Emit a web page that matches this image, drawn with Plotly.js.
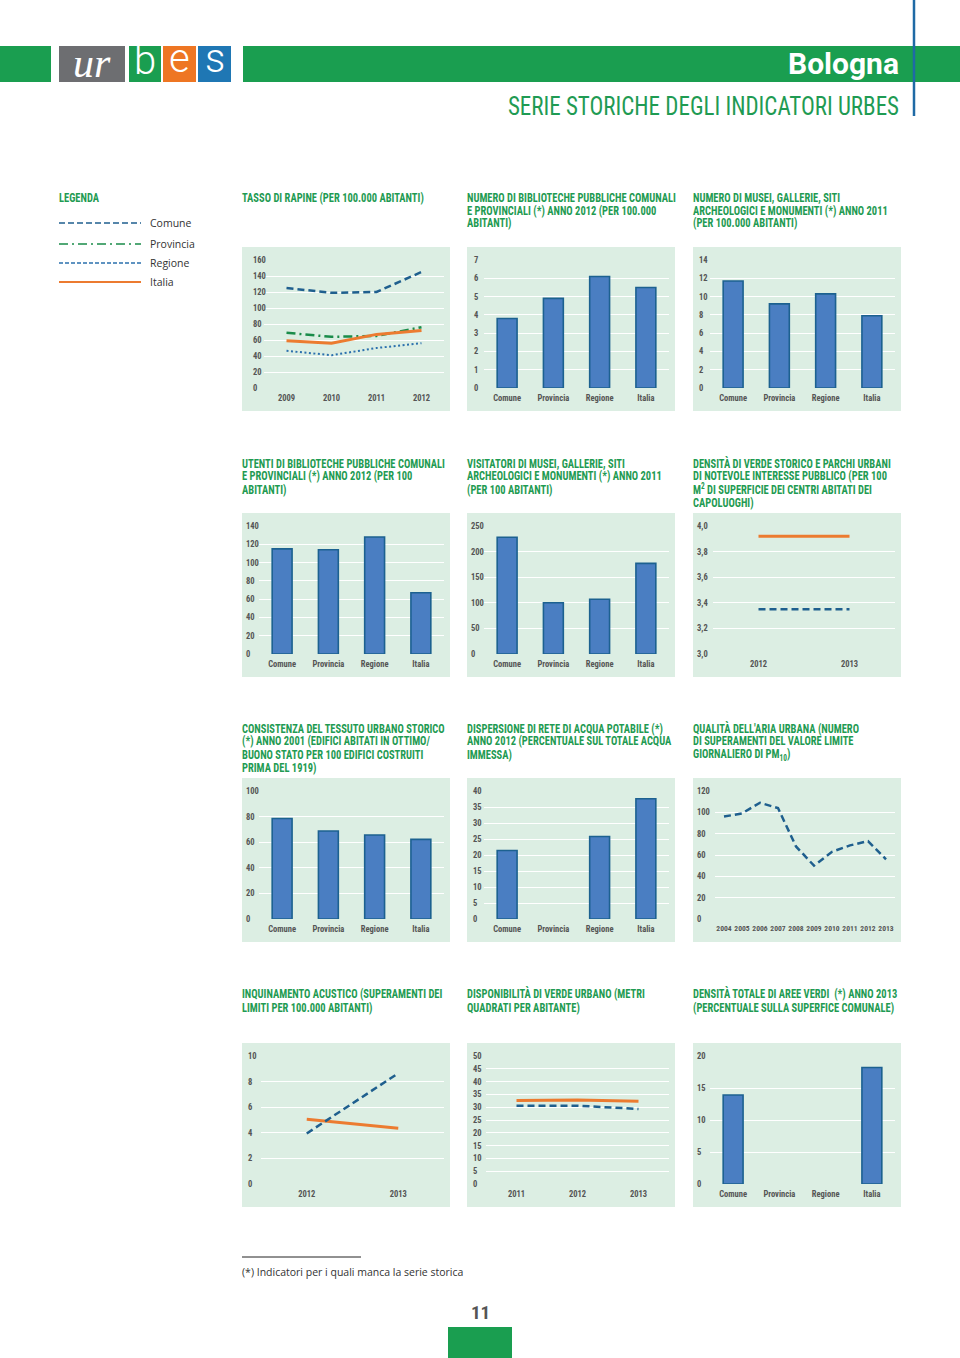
<!DOCTYPE html>
<html><head><meta charset="utf-8">
<script src="https://cdn.plot.ly/plotly-3.0.1.min.js"></script>
<style>html,body{margin:0;padding:0;background:#fff}#chart{width:960px;height:1358px}</style>
</head><body><div id="chart"></div>
<script>
// ---------------- DATA ----------------
const barCats = ["Comune", "Provincia", "Regione", "Italia"];
const rapineYears = ["2009", "2010", "2011", "2012"];
const rapineComune = [125, 119, 120, 145];
const rapineProvincia = [69, 64, 65, 76];
const rapineRegione = [46.5, 41, 50, 56];
const rapineItalia = [59, 56, 67, 72];
const bibliotecheValues = [3.8, 4.9, 6.1, 5.5];
const museiValues = [11.7, 9.2, 10.3, 7.9];
const utentiValues = [115, 114, 128, 67];
const visitatoriValues = [228, 100, 107, 177];
const verdeStoricoYears = ["2012", "2013"];
const verdeStoricoComune = [3.35, 3.35];
const verdeStoricoItalia = [3.92, 3.92];
const tessutoValues = [78.5, 68.8, 65.6, 62.2];
const dispersioneValues = [21.4, null, 25.8, 37.6];
const pm10Years = ["2004", "2005", "2006", "2007", "2008", "2009", "2010", "2011", "2012", "2013"];
const pm10Comune = [96, 99, 109, 104, 68, 50, 63, 69, 73, 56];
const acusticoYears = ["2012", "2013"];
const acusticoComune = [3.95, 8.65];
const acusticoItalia = [5.05, 4.35];
const verdeUrbanoYears = ["2011", "2012", "2013"];
const verdeUrbanoComune = [30.6, 30.6, 29.3];
const verdeUrbanoItalia = [32.6, 32.8, 32.3];
const areeVerdiValues = [13.9, null, null, 18.2];
const legendNames = ["Comune", "Provincia", "Regione", "Italia"];

// ---------------- STYLE / LAYOUT ----------------
const W = 960, H = 1358;
const px = x => x / W, py = y => 1 - y / H;
const COND = '"Roboto Condensed", "Liberation Sans Narrow", "DejaVu Sans Condensed", "Arial Narrow", sans-serif';
const GREEN = '#1f9b53', PANEL = '#dceee3', BAR = '#4a7ec2', BAREDGE = '#1c6190';
const C_COM = '#1f5f8e', C_PROV = '#1a8c4a', C_REG = '#2b70ad', C_ITA = '#ec7b30';
const colL = [242, 467, 693], rowT = [247, 513, 778, 1043], titleY = [197, 463, 728, 994];

const styles = {
  Comune:    {color: C_COM, width: 2.5, dash: '7px,4px'},
  Provincia: {color: C_PROV, width: 2.5, dash: '9px,4px,2px,4px'},
  Regione:   {color: C_REG, width: 2, dash: '2px,2.5px'},
  Italia:    {color: C_ITA, width: 3, dash: 'solid'}
};

const charts = [
  {row:0,col:0,title:["TASSO DI RAPINE (PER 100.000 ABITANTI)"], y:[0,160,20], xoff:22, lab:7,
   lines:[[rapineYears,rapineComune,'Comune'],[rapineYears,rapineProvincia,'Provincia'],[rapineYears,rapineRegione,'Regione'],[rapineYears,rapineItalia,'Italia']]},
  {row:0,col:1,title:["NUMERO DI BIBLIOTECHE PUBBLICHE COMUNALI","E PROVINCIALI (*) ANNO 2012 (PER 100.000","ABITANTI)"], y:[0,7,1], bars:bibliotecheValues, lab:3},
  {row:0,col:2,title:["NUMERO DI MUSEI, GALLERIE, SITI","ARCHEOLOGICI E MONUMENTI (*) ANNO 2011","(PER 100.000 ABITANTI)"], y:[0,14,2], bars:museiValues, lab:2},
  {row:1,col:0,title:["UTENTI DI BIBLIOTECHE PUBBLICHE COMUNALI","E PROVINCIALI (*) ANNO 2012 (PER 100","ABITANTI)"], y:[0,140,20], bars:utentiValues},
  {row:1,col:1,title:["VISITATORI DI MUSEI, GALLERIE, SITI","ARCHEOLOGICI E MONUMENTI (*) ANNO 2011","(PER 100 ABITANTI)"], y:[0,250,50], bars:visitatoriValues},
  {row:1,col:2,title:["DENSITÀ DI VERDE STORICO E PARCHI URBANI","DI NOTEVOLE INTERESSE PUBBLICO (PER 100","M<sup>2</sup> DI SUPERFICIE DEI CENTRI ABITATI DEI","CAPOLUOGHI)"], y:[3,4,0.2], fmt:'.1f', xoff:20,
   lines:[[verdeStoricoYears,verdeStoricoItalia,'Italia'],[verdeStoricoYears,verdeStoricoComune,'Comune']]},
  {row:2,col:0,title:["CONSISTENZA DEL TESSUTO URBANO STORICO","(*) ANNO 2001 (EDIFICI ABITATI IN OTTIMO/","BUONO STATO PER 100 EDIFICI COSTRUITI","PRIMA DEL 1919)"], y:[0,100,20], bars:tessutoValues},
  {row:2,col:1,title:["DISPERSIONE DI RETE DI ACQUA POTABILE (*)","ANNO 2012 (PERCENTUALE SUL TOTALE ACQUA","IMMESSA)"], y:[0,40,5], bars:dispersioneValues, lab:2},
  {row:2,col:2,title:["QUALITÀ DELL'ARIA URBANA (NUMERO","DI SUPERAMENTI DEL VALORE LIMITE","GIORNALIERO DI PM<sub>10</sub>)"], y:[0,120,20], xoff:22, xfs:7.6,
   lines:[[pm10Years,pm10Comune,'Comune']]},
  {row:3,col:0,title:["INQUINAMENTO ACUSTICO (SUPERAMENTI DEI","LIMITI PER 100.000 ABITANTI)"], y:[0,10,2], xoff:19, lab:2,
   lines:[[acusticoYears,acusticoItalia,'Italia'],[acusticoYears,acusticoComune,'Comune']]},
  {row:3,col:1,title:["DISPONIBILITÀ DI VERDE URBANO (METRI","QUADRATI PER ABITANTE)"], y:[0,50,5], xoff:19, lab:2,
   lines:[[verdeUrbanoYears,verdeUrbanoItalia,'Italia'],[verdeUrbanoYears,verdeUrbanoComune,'Comune']]},
  {row:3,col:2,title:["DENSITÀ TOTALE DI AREE VERDI  (*) ANNO 2013","(PERCENTUALE SULLA SUPERFICE COMUNALE)"], y:[0,20,5], bars:areeVerdiValues}
];

const data = [];
const layout = {
  width: W, height: H, margin: {l:0, r:0, t:0, b:0},
  paper_bgcolor: '#ffffff', plot_bgcolor: 'rgba(0,0,0,0)',
  showlegend: false, separators: ',.', bargap: 0.57,
  font: {family: COND, color: '#555'},
  shapes: [], annotations: []
};
const hScale = {};   // annotation index -> horizontal squeeze (condensed lettering)
const S = layout.shapes, A = layout.annotations;
const ann = (x, y, text, font, xa, sc) => {
  A.push({xref:'paper', yref:'paper', x:px(x), y:py(y), text:text, showarrow:false,
    xanchor:xa || 'left', yanchor:'middle', align:xa || 'left', font:font, borderpad:0});
  if (sc) hScale[A.length - 1] = sc;
};

charts.forEach((c, i) => {
  const n = i + 1, xs = n === 1 ? '' : String(n);
  const L = colL[c.col], T = rowT[c.row];
  const xoff = c.bars ? 17 : (c.xoff || 20);
  S.push({type:'rect', xref:'paper', yref:'paper', layer:'below',
    x0:px(L), x1:px(L+208), y0:py(T+164), y1:py(T), fillcolor:PANEL, line:{width:0}});
  c.title.forEach((t, k) => ann(L - 1, titleY[c.row] + k*13, t,
    {family:COND, size:12.5, color:GREEN, weight:'bold'}, 'left', 0.84));
  const nCat = c.bars ? barCats.length : c.lines[0][0].length;
  layout['xaxis'+xs] = {domain:[px(L+xoff), px(L+202)], anchor:'y'+xs, type:'category',
    range:[-0.5, nCat - 0.5], tickangle:0, ticklabelstandoff:3,
    showgrid:false, zeroline:false, showline:false, ticks:'', fixedrange:true,
    tickfont:{family:COND, size:c.xfs || 8.5, color:'#555', weight:'bold'}};
  layout['yaxis'+xs] = {domain:[py(T+141), py(T+13)], anchor:'free', position:px(L + (c.lab || 0)),
    ticklabelposition:'inside', ticklabeloverflow:'allow', range:[c.y[0], c.y[1]],
    tick0:c.y[0], dtick:c.y[2], showgrid:true, gridcolor:'#ffffff', gridwidth:1,
    zeroline:false, showline:false, ticks:'', fixedrange:true, tickformat:c.fmt || '',
    tickfont:{family:COND, size:8.5, color:'#555', weight:'bold'}};
  if (c.bars) {
    data.push({type:'bar', x:barCats, y:c.bars, xaxis:'x'+xs, yaxis:'y'+xs,
      marker:{color:BAR, line:{color:BAREDGE, width:1.6}}});
  } else {
    c.lines.forEach(([xv, yv, name]) => {
      const s = styles[name];
      data.push({type:'scatter', mode:'lines', name:name, x:xv, y:yv, xaxis:'x'+xs, yaxis:'y'+xs,
        line:{color:s.color, width:s.width, dash:s.dash, shape:'linear'}});
    });
  }
});

// ---- page decorations ----
const rect = (x0,y0,x1,y1,col) => S.push({type:'rect', xref:'paper', yref:'paper', x0:px(x0), x1:px(x1), y0:py(y1), y1:py(y0), fillcolor:col, line:{width:0}});
rect(0,46,51,82,'#1a9e50');
rect(243,46,960,82,'#1a9e50');
rect(59,46,125,82,'#6d6e71');
rect(129,46,161,82,'#1a9e50');
rect(163,46,196,82,'#ee7623');
rect(198,46,231,82,'#1f77b4');
S.push({type:'line', xref:'paper', yref:'paper', x0:px(914), x1:px(914), y0:py(0), y1:py(116), line:{color:'#1f6aa5', width:2.5}});
ann(92,63,'<i>ur</i>',{family:'"Liberation Serif", "DejaVu Serif", serif', size:42, color:'#ffffff'},'center');
ann(145,61,'b',{family:'Roboto, "DejaVu Sans", sans-serif', size:40, color:'#ffffff', weight:300},'center');
ann(179.5,59,'e',{family:'Roboto, "DejaVu Sans", sans-serif', size:40, color:'#ffffff', weight:300},'center');
ann(214.5,59,'s',{family:'Roboto, "DejaVu Sans", sans-serif', size:40, color:'#ffffff', weight:300},'center');
ann(900,63,'Bologna',{family:'Roboto, sans-serif', size:30, color:'#ffffff', weight:'bold'},'right');
ann(900,106,'SERIE STORICHE DEGLI INDICATORI URBES',{family:COND, size:26, color:GREEN},'right', 0.885);

// legend
ann(58,197,'LEGENDA',{family:COND, size:12.5, color:GREEN, weight:'bold'},'left',0.84);
const legY = [223, 244, 263, 282];
const legDash = {Comune:'6px,3px', Provincia:'9px,4px,2px,4px', Regione:'4px,2px', Italia:'solid'};
legendNames.forEach((nm, k) => {
  const s = styles[nm];
  S.push({type:'line', xref:'paper', yref:'paper', x0:px(59), x1:px(141), y0:py(legY[k]), y1:py(legY[k]),
    line:{color:s.color, width: nm==='Italia'?1.8:1.5, dash:legDash[nm]}});
  ann(149, legY[k], nm, {family:'"Open Sans", "Noto Sans", sans-serif', size:10.5, color:'#333'});
});

// footnote
S.push({type:'line', xref:'paper', yref:'paper', x0:px(242), x1:px(361), y0:py(1257), y1:py(1257), line:{color:'#222', width:1}});
ann(241,1272,'(*) Indicatori per i quali manca la serie storica',{family:'"Open Sans", "Noto Sans", sans-serif', size:10.5, color:'#333'});
ann(480,1312,'11',{family:COND, size:19, color:'#555', weight:'bold'},'center');
rect(448,1327,512,1358,'#1a9e50');

Plotly.newPlot('chart', data, layout, {staticPlot:true, displayModeBar:false}).then(() => {
  Object.keys(hScale).forEach(idx => {
    const t = document.querySelector('#chart g.annotation[data-index="' + idx + '"] text.annotation-text');
    if (!t) return;
    const x0 = parseFloat(t.getAttribute('x')) || 0;
    t.setAttribute('transform', 'translate(' + x0 + ',0) scale(' + hScale[idx] + ',1) translate(' + (-x0) + ',0)');
  });
});
</script></body></html>
